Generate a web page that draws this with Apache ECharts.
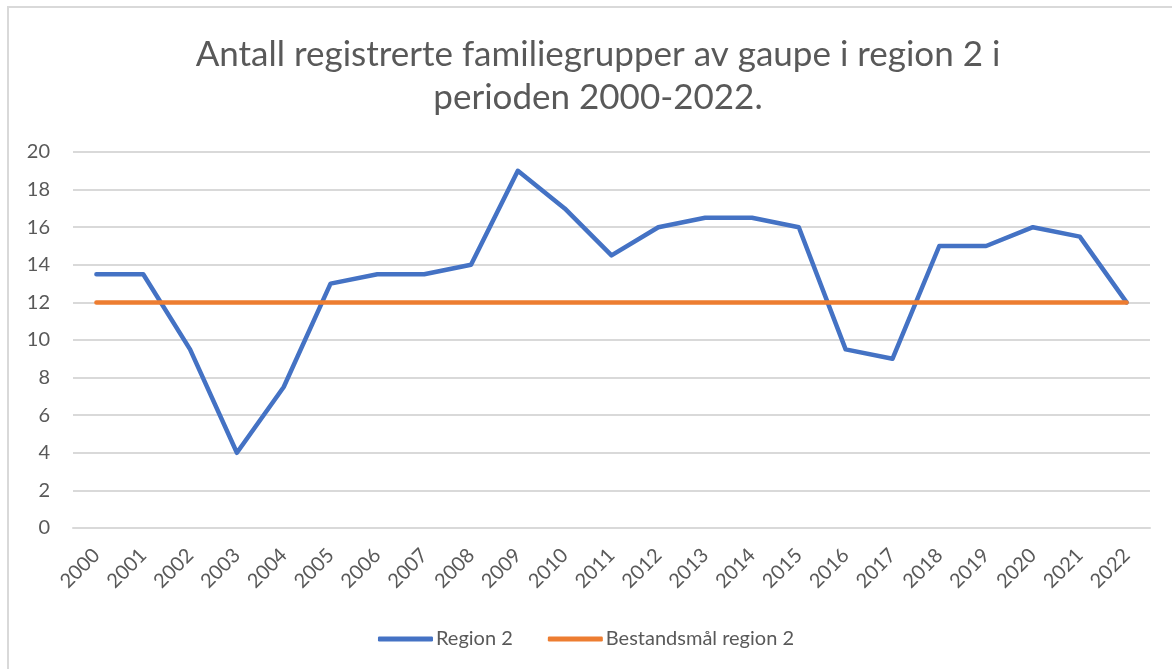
<!DOCTYPE html>
<html>
<head>
<meta charset="utf-8">
<script src="https://cdn.jsdelivr.net/npm/echarts@6/dist/echarts.min.js"></script>
<style>
    html, body { margin: 0; padding: 0; background: #fff; }
    #chart { width: 1172px; height: 669px; }
</style>
</head>
<body>
<div id="chart"></div>
<script>
    // data
    var years = ['2000', '2001', '2002', '2003', '2004', '2005', '2006', '2007', '2008', '2009', '2010', '2011',
        '2012', '2013', '2014', '2015', '2016', '2017', '2018', '2019', '2020', '2021', '2022'];
    var region2 = [13.5, 13.5, 9.5, 4, 7.5, 13, 13.5, 13.5, 14, 19, 17, 14.5,
        16, 16.5, 16.5, 16, 9.5, 9, 15, 15, 16, 15.5, 12];
    var bestandsmal = [12, 12, 12, 12, 12, 12, 12, 12, 12, 12, 12, 12,
        12, 12, 12, 12, 12, 12, 12, 12, 12, 12, 12];

    var font = 'Lato, "Open Sans", sans-serif';
    var textColor = '#595959';

    var chart = echarts.init(document.getElementById('chart'));
    chart.setOption({
        animation: false,
        backgroundColor: '#fff',
        graphic: [{
            type: 'rect',
            shape: { x: 8, y: 7, width: 1180, height: 680 },
            style: { fill: 'none', stroke: '#d9d9d9', lineWidth: 2 },
            silent: true
        }, {
            // title drawn as text so it can sit a bit right of the page centre, as in the original
            type: 'text',
            x: 598,
            y: 33,
            style: {
                text: 'Antall registrerte familiegrupper av gaupe i region 2 i\nperioden 2000-2022.',
                font: 'normal 35px ' + font,
                fill: textColor,
                align: 'center',
                verticalAlign: 'top',
                lineHeight: 43
            },
            silent: true
        }],
        legend: {
            bottom: 15,
            left: 'center',
            itemWidth: 55,
            itemHeight: 5,
            itemGap: 35,
            textStyle: { fontFamily: font, fontSize: 20, color: textColor, padding: [0, 0, 0, -2] },
            data: [
                { name: 'Region 2', icon: 'roundRect' },
                { name: 'Bestandsmål region 2', icon: 'roundRect' }
            ]
        },
        grid: { left: 73, right: 22, top: 152, bottom: 141 },
        xAxis: {
            type: 'category',
            data: years,
            boundaryGap: true,
            axisLine: { show: true, lineStyle: { color: '#d9d9d9', width: 2 } },
            axisTick: { show: false },
            axisLabel: {
                rotate: 45,
                interval: 0,
                margin: 24,
                fontFamily: font,
                fontSize: 20,
                color: textColor
            }
        },
        yAxis: {
            type: 'value',
            min: 0,
            max: 20,
            interval: 2,
            axisLine: { show: false },
            axisTick: { show: false },
            splitLine: { lineStyle: { color: '#d9d9d9', width: 2 } },
            axisLabel: { margin: 23, fontFamily: font, fontSize: 20, color: textColor }
        },
        series: [{
            name: 'Region 2',
            type: 'line',
            data: region2,
            symbol: 'none',
            color: '#4472C4',
            lineStyle: { width: 4.5, cap: 'round', join: 'round' },
            z: 2
        }, {
            name: 'Bestandsmål region 2',
            type: 'line',
            data: bestandsmal,
            symbol: 'none',
            color: '#ED7D31',
            lineStyle: { width: 4.5, cap: 'round' },
            z: 3
        }]
    });
</script>
</body>
</html>
